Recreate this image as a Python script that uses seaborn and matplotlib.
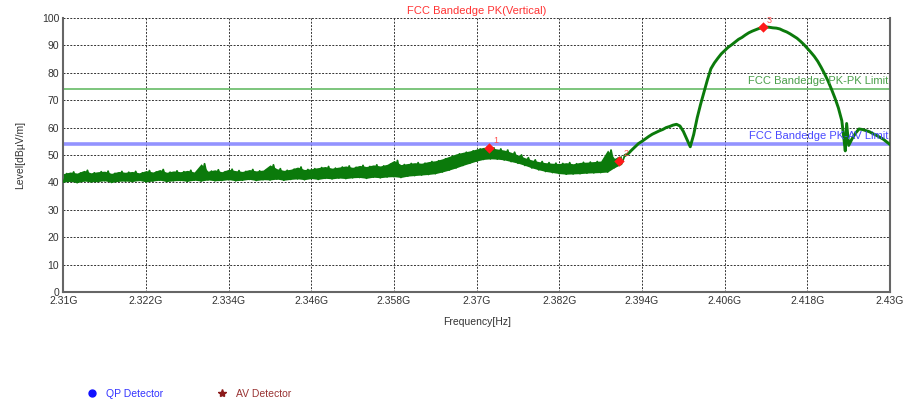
import numpy as np
import pandas as pd
import matplotlib
matplotlib.use("Agg")
import matplotlib.pyplot as plt
from matplotlib.lines import Line2D
import seaborn as sns

# ---------------- data ----------------
title = "FCC Bandedge PK(Vertical)"
x_label = "Frequency[Hz]"
y_label = "Level[dB\u00b5V/m]"
x_ticks = [2.310, 2.322, 2.334, 2.346, 2.358, 2.370, 2.382, 2.394, 2.406, 2.418, 2.430]
x_tick_labels = ["2.31G", "2.322G", "2.334G", "2.346G", "2.358G", "2.37G",
                 "2.382G", "2.394G", "2.406G", "2.418G", "2.43G"]
y_ticks = [0, 10, 20, 30, 40, 50, 60, 70, 80, 90, 100]

# noisy part of the trace: 1 MHz grid from 2.310 GHz, minimum at f, maximum at f+0.5 MHz
noisy_start_ghz = 2.310
noisy_low = [40.1, 40.4, 39.9, 40.5, 40.2, 40.3, 40.6, 40.0, 40.4, 40.5,
             40.3, 40.7, 40.2, 40.5, 40.8, 40.3, 40.6, 40.7, 40.4, 40.8,
             40.5, 40.9, 40.6, 40.7, 41.0, 40.6, 40.8, 41.1, 40.7, 41.0,
             40.9, 41.2, 40.8, 41.1, 41.3, 41.0, 41.4, 41.1, 41.5, 41.3,
             41.6, 41.4, 41.7, 41.8, 41.5, 41.9, 41.7, 42.0, 42.1, 41.8,
             42.3, 42.5, 42.7, 42.9, 43.2, 43.8, 44.5, 45.3, 46.2, 47.0,
             47.8, 48.4, 48.6, 48.5, 48.2, 47.6, 47.0, 46.2, 45.3, 44.6,
             44.0, 43.6, 43.2, 43.0, 43.1, 43.2, 43.4, 43.5, 43.6, 43.8,
             45.4, 46.6]
noisy_high = [43.2, 43.8, 43.4, 44.4, 43.5, 43.9, 44.1, 43.3, 44.0, 43.7,
              44.0, 43.5, 44.3, 43.8, 44.7, 43.7, 44.2, 43.9, 44.4, 43.8,
              46.8, 44.1, 44.6, 43.9, 44.8, 44.3, 44.0, 44.7, 44.2, 44.5,
              46.4, 45.0, 44.4, 44.8, 45.6, 44.7, 45.0, 45.4, 45.8, 45.2,
              45.6, 46.0, 45.5, 46.2, 45.8, 46.4, 46.0, 46.6, 48.0, 46.5,
              46.9, 47.2, 47.0, 47.6, 47.9, 48.6, 49.5, 50.4, 51.0, 51.5,
              52.2, 52.8, 52.6, 52.2, 51.8, 51.0, 50.0, 49.0, 48.2, 47.6,
              47.2, 47.0, 46.9, 47.2, 46.8, 47.3, 47.4, 47.6, 47.8, 51.8,
              48.8, 49.8]

# smooth part of the trace (GHz, dBuV/m)
smooth_freq = [2.3915, 2.3920, 2.3925, 2.3930, 2.3935, 2.3940, 2.3945, 2.3950, 2.3955, 2.3960, 2.3965,
               2.3970, 2.3975, 2.3980, 2.3985, 2.3990, 2.3995, 2.4000, 2.4005, 2.4010, 2.4015,
               2.4020, 2.4025, 2.4030, 2.4035, 2.4040, 2.4045, 2.4050, 2.4055, 2.4060, 2.4065,
               2.4070, 2.4075, 2.4080, 2.4085, 2.4090, 2.4095, 2.4100, 2.4105, 2.4110, 2.4115,
               2.4120, 2.4125, 2.4130, 2.4135, 2.4140, 2.4145, 2.4150, 2.4155, 2.4160, 2.4165,
               2.4170, 2.4175, 2.4180, 2.4185, 2.4190, 2.4195, 2.4200, 2.4205, 2.4210, 2.4215,
               2.4220, 2.4225, 2.4230, 2.4233, 2.4235, 2.4237, 2.4240, 2.4245, 2.4250, 2.4255,
               2.4260, 2.4265, 2.4270, 2.4275, 2.4280, 2.4285, 2.4290, 2.4295, 2.4300]
smooth_level = [49.8, 50.5, 51.8, 53.0, 54.2, 55.0, 55.9, 56.8, 57.6, 58.2, 58.8,
                59.3, 60.0, 60.4, 60.9, 61.2, 60.6, 58.6, 55.8, 53.0, 57.5,
                63.5, 68.5, 73.0, 77.5, 81.5, 83.6, 85.3, 86.9, 88.1, 89.3,
                90.2, 91.2, 92.2, 92.9, 93.8, 94.6, 95.2, 95.7, 96.2, 96.5,
                96.7, 96.6, 96.4, 96.3, 96.0, 95.4, 94.9, 94.2, 93.4, 92.6,
                91.5, 90.3, 88.9, 87.5, 86.0, 84.2, 82.0, 79.6, 77.0, 74.0,
                70.8, 67.2, 62.5, 56.0, 51.5, 61.5, 53.5, 56.0, 58.0, 59.5,
                59.3, 58.9, 58.5, 57.8, 57.2, 56.5, 55.8, 54.8, 53.8]

# limits
limit_pk = 74.0
limit_av = 54.0
limit_pk_label = "FCC Bandedge PK-PK Limit"
limit_av_label = "FCC Bandedge PK-AV Limit"

# marked peaks
marker_ids = ["1", "2", "3"]
marker_freq = [2.3718, 2.3907, 2.4115]
marker_level = [52.7, 47.9, 96.6]

legend_labels = ["QP Detector", "AV Detector"]

# ---------------- build ----------------
n = len(noisy_low)
f_low = noisy_start_ghz + np.arange(n) / 1000.0
f_high = f_low + 0.0005
zig_f = np.empty(2 * n)
zig_v = np.empty(2 * n)
zig_f[0::2] = f_low
zig_f[1::2] = f_high
zig_v[0::2] = noisy_low
zig_v[1::2] = noisy_high
noisy = pd.DataFrame({"freq": zig_f, "level": zig_v})
smooth = pd.DataFrame({"freq": smooth_freq, "level": smooth_level})
markers = pd.DataFrame({"freq": marker_freq, "level": marker_level, "id": marker_ids})

sns.set_theme(style="white")
plt.rcParams["font.family"] = ["Liberation Sans", "DejaVu Sans"]

fig = plt.figure(figsize=(9.11, 4.05), dpi=100)
ax = fig.add_axes([0.0695, 0.279, 0.9075, 0.6766])

trace_color = "#0b7a0b"
ax.fill_between(f_low, noisy_low, noisy_high, color=trace_color, linewidth=0, zorder=3)
sns.lineplot(data=noisy, x="freq", y="level", sort=False, estimator=None,
             color=trace_color, linewidth=1.3, ax=ax, zorder=4)
sns.lineplot(data=smooth, x="freq", y="level", sort=False, estimator=None,
             color=trace_color, linewidth=2.1, ax=ax, zorder=4)

ax.axhline(limit_pk, color="#66bb66", linewidth=1.2, zorder=2)
ax.axhline(limit_av, color="#8080ff", linewidth=2.6, alpha=0.85, zorder=2)
ax.text(2.4297, limit_pk + 1.2, limit_pk_label, color="#4a9e4a", fontsize=8,
        ha="right", va="bottom", zorder=5)
ax.text(2.4297, limit_av + 1.2, limit_av_label, color="#4a4aff", fontsize=8,
        ha="right", va="bottom", zorder=5)

sns.scatterplot(data=markers, x="freq", y="level", marker="D", s=28,
                color="#ff1a1a", edgecolor="#ff1a1a", linewidth=0, ax=ax, zorder=6)
for _, r in markers.iterrows():
    ax.annotate(r["id"], (r["freq"], r["level"]), xytext=(3, 2), textcoords="offset points",
                color="#ff5050", fontsize=6.5, ha="left", va="bottom", zorder=7)

ax.set_xlim(2.310, 2.430)
ax.set_ylim(0, 100)
ax.set_xticks(x_ticks)
ax.set_xticklabels(x_tick_labels)
ax.set_yticks(y_ticks)
ax.tick_params(axis="both", length=0, labelsize=7.5, colors="#333333", pad=3)
ax.grid(True, color="#333333", linestyle=(0, (2, 1.5)), linewidth=0.7)
ax.set_axisbelow(True)

for side in ["left", "bottom", "right"]:
    ax.spines[side].set_visible(True)
    ax.spines[side].set_color("#666666")
    ax.spines[side].set_linewidth(1.5)
ax.spines["top"].set_visible(False)

ax.set_xlabel(x_label, fontsize=7.5, color="#333333", labelpad=8)
ax.set_ylabel(y_label, fontsize=7.5, color="#333333", labelpad=12)
ax.set_title(title, fontsize=8, color="#ff3333", pad=3)

handles = [
    Line2D([], [], linestyle="none", marker="o", markersize=5, color="#1010ff"),
    Line2D([], [], linestyle="none", marker="*", markersize=6, color="#8b1a1a"),
]
leg = fig.legend(handles, legend_labels, loc="center left", bbox_to_anchor=(0.085, 0.027),
                 ncol=2, frameon=False, fontsize=7.5, handletextpad=0.8,
                 columnspacing=5.2, handlelength=1.0)
for t, c in zip(leg.get_texts(), ["#3333ff", "#993333"]):
    t.set_color(c)

fig.savefig("out.png", dpi=100)
